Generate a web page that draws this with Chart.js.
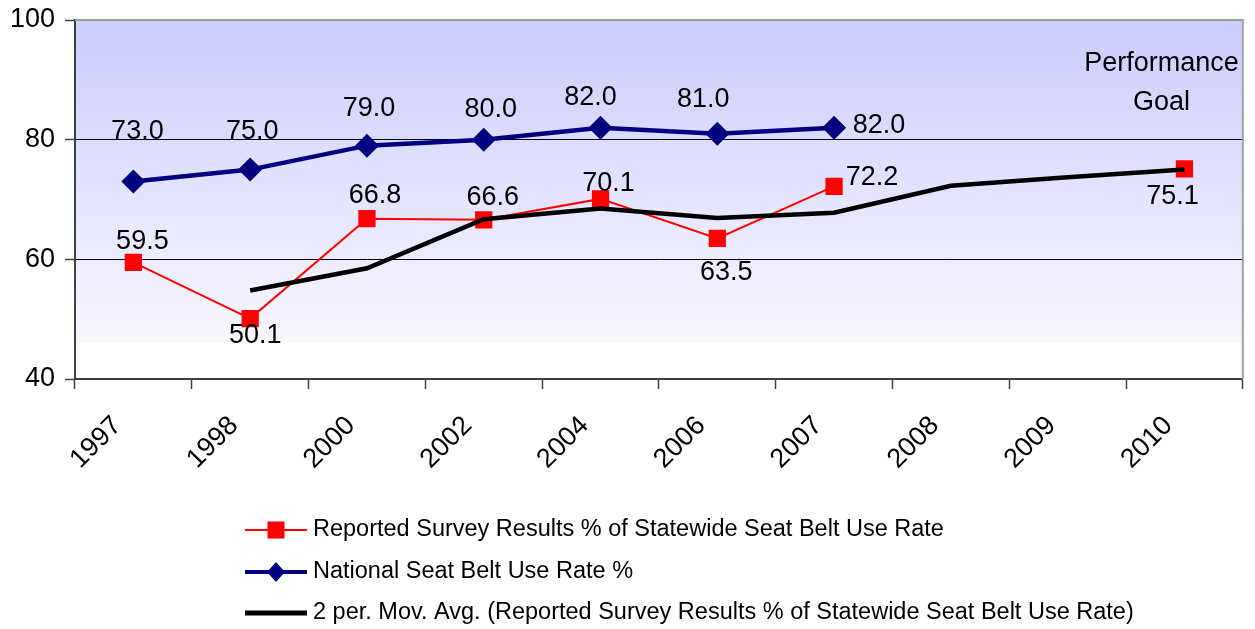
<!DOCTYPE html>
<html><head><meta charset="utf-8">
<script src="https://cdn.jsdelivr.net/npm/chart.js@4/dist/chart.umd.min.js"></script>
<style>html,body{margin:0;padding:0;background:#fff;overflow:hidden;}</style>
</head><body>
<canvas id="c" width="1255" height="629"></canvas>
<script>
const categories = ['1997','1998','2000','2002','2004','2006','2007','2008','2009','2010'];
const stateRate = [59.5, 50.1, 66.8, 66.6, 70.1, 63.5, 72.2, null, null, 75.1];
const nationalRate = [73.0, 75.0, 79.0, 80.0, 82.0, 81.0, 82.0, null, null, null];
const movingAvg = [null, 54.8, 58.5, 66.7, 68.5, 66.9, 67.8, 72.3, 73.7, 75.0];
const yTicks = [40, 60, 80, 100];
const seriesNames = [
  'Reported Survey Results % of Statewide Seat Belt Use Rate',
  'National Seat Belt Use Rate %',
  '2 per. Mov. Avg. (Reported Survey Results % of Statewide Seat Belt Use Rate)'
];
const goalText = ['Performance', 'Goal'];

const FONT = "'Liberation Sans', Arial, sans-serif";

// label placement (pixel offsets from each point), style only
const labelOffsets = [
  [[9,-21],[5,17],[8,-23],[9,-22],[8,-15],[9,34],[38,-9],null,null,[-12,28]],
  [[4,-50],[2,-38],[2,-37],[7,-30],[-10,-30],[-14,-34],[45,-2]]
];

const bgPlugin = {
  id: 'bg',
  beforeDraw(chart) {
    const {ctx, chartArea: a} = chart;
    ctx.save();
    ctx.fillStyle = '#ffffff';
    ctx.fillRect(a.left, a.top, a.right - a.left, a.bottom - a.top);
    const cut = 343;
    const g = ctx.createLinearGradient(0, a.top, 0, cut);
    g.addColorStop(0, '#ccccff');
    g.addColorStop(1, '#f8f8ff');
    ctx.fillStyle = g;
    ctx.fillRect(a.left, a.top, a.right - a.left, cut - a.top);
    ctx.restore();
  },
  beforeDatasetsDraw(chart) {
    const {ctx, chartArea: a} = chart;
    ctx.save();
    ctx.strokeStyle = '#a0a0a0';
    ctx.lineWidth = 2;
    ctx.beginPath();
    ctx.moveTo(a.left, a.top);
    ctx.lineTo(a.right, a.top);
    ctx.lineTo(a.right, a.bottom);
    ctx.stroke();
    ctx.restore();
  }
};

const labelPlugin = {
  id: 'vlabels',
  afterDatasetsDraw(chart) {
    const ctx = chart.ctx;
    ctx.save();
    ctx.font = '27px ' + FONT;
    ctx.fillStyle = '#000';
    ctx.textAlign = 'center';
    ctx.textBaseline = 'middle';
    [0, 1].forEach(di => {
      const meta = chart.getDatasetMeta(di);
      const data = chart.data.datasets[di].data;
      meta.data.forEach((pt, i) => {
        const v = data[i];
        const off = labelOffsets[di][i];
        if (v == null || !off) return;
        ctx.fillText(v.toFixed(1), pt.x + off[0], pt.y + off[1]);
      });
    });
    // Performance goal annotation
    const cx = chart.scales.x.getPixelForValue(9) - 23;
    ctx.fillText(goalText[0], cx, 64);
    ctx.fillText(goalText[1], cx, 103);
    ctx.restore();
  },
  afterDraw(chart) {
    const ctx = chart.ctx;
    ctx.save();
    const ys = [530, 572, 613];
    const x0 = 245, x1 = 307, mx = 276, tx = 313;
    // red
    ctx.strokeStyle = '#ff0000'; ctx.lineWidth = 2;
    ctx.beginPath(); ctx.moveTo(x0, ys[0]); ctx.lineTo(x1, ys[0]); ctx.stroke();
    ctx.fillStyle = '#ff0000';
    ctx.fillRect(mx - 8.5, ys[0] - 8.5, 17, 17);
    // navy
    ctx.strokeStyle = '#000080'; ctx.lineWidth = 4;
    ctx.beginPath(); ctx.moveTo(x0, ys[1]); ctx.lineTo(x1, ys[1]); ctx.stroke();
    ctx.fillStyle = '#000080';
    ctx.beginPath();
    ctx.moveTo(mx, ys[1] - 10); ctx.lineTo(mx + 9, ys[1]); ctx.lineTo(mx, ys[1] + 10); ctx.lineTo(mx - 9, ys[1]);
    ctx.closePath(); ctx.fill();
    // black
    ctx.strokeStyle = '#000'; ctx.lineWidth = 5;
    ctx.beginPath(); ctx.moveTo(x0, ys[2]); ctx.lineTo(x1, ys[2]); ctx.stroke();
    ctx.fillStyle = '#000';
    ctx.font = '23.5px ' + FONT;
    ctx.textAlign = 'left';
    ctx.textBaseline = 'middle';
    seriesNames.forEach((n, i) => ctx.fillText(n, tx, ys[i]));
    ctx.restore();
  }
};

new Chart(document.getElementById('c'), {
  type: 'line',
  data: {
    labels: categories,
    datasets: [
      {
        label: seriesNames[0], data: stateRate,
        borderColor: '#ff0000', backgroundColor: '#ff0000', borderWidth: 2,
        pointStyle: 'rect', pointRadius: 12.2, pointBorderWidth: 0, pointHoverRadius: 12.2,
        spanGaps: false, tension: 0, order: 2
      },
      {
        label: seriesNames[1], data: nationalRate,
        borderColor: '#000080', backgroundColor: '#000080', borderWidth: 4.5,
        pointStyle: 'rectRot', pointRadius: 12, pointBorderWidth: 0, pointHoverRadius: 12,
        spanGaps: false, tension: 0, order: 3
      },
      {
        label: seriesNames[2], data: movingAvg,
        borderColor: '#000000', backgroundColor: '#000000', borderWidth: 4.5,
        pointRadius: 0, pointHoverRadius: 0, spanGaps: false, tension: 0, order: 1
      }
    ]
  },
  options: {
    responsive: false,
    animation: false,
    devicePixelRatio: 1,
    layout: { padding: { top: 20, right: 10, left: 0, bottom: 150 } },
    plugins: { legend: { display: false }, tooltip: { enabled: false } },
    scales: {
      x: {
        type: 'category',
        offset: true,
        afterFit(s) { s.height = 100; s.paddingLeft = 0; s.paddingRight = 0; },
        grid: { offset: true, drawOnChartArea: false, drawTicks: true, tickLength: 10, tickColor: '#404040', tickWidth: 1.5 },
        border: { display: true, color: '#404040', width: 2 },
        ticks: {
          autoSkip: false, minRotation: 45, maxRotation: 45, padding: 21, labelOffset: -16,
          color: '#000', font: { family: FONT, size: 27 }
        }
      },
      y: {
        min: 40, max: 100,
        afterFit(s) { s.width = 75; s.paddingTop = 0; s.paddingBottom = 0; },
        afterBuildTicks(s) { s.ticks = yTicks.map(v => ({ value: v })); },
        grid: {
          color: ctx => (ctx.tick && (ctx.tick.value === 60 || ctx.tick.value === 80)) ? '#000000' : 'rgba(0,0,0,0)',
          lineWidth: 1, drawTicks: true, tickLength: 10, tickColor: '#404040', tickWidth: 1.5
        },
        border: { display: true, color: '#404040', width: 2 },
        ticks: { padding: 10, color: '#000', font: { family: FONT, size: 27 } }
      }
    }
  },
  plugins: [bgPlugin, labelPlugin]
});
</script>
</body></html>
